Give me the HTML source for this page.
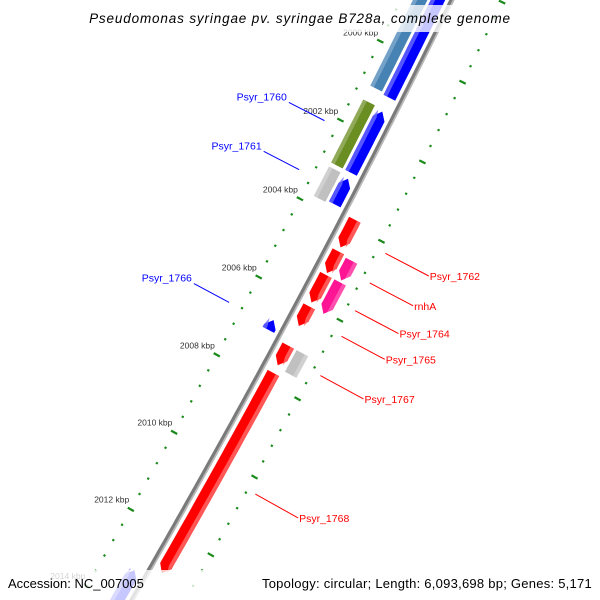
<!DOCTYPE html>
<html><head><meta charset="utf-8"><style>
html,body{margin:0;padding:0;background:#fff;width:600px;height:600px;overflow:hidden;}
svg{display:block;font-family:"Liberation Sans",sans-serif;overflow:hidden;}
</style></head><body>
<svg id="map" width="600" height="600" viewBox="0 0 600 600" xmlns="http://www.w3.org/2000/svg">
<defs><clipPath id="frame"><rect x="0" y="0" width="600" height="600"/></clipPath></defs>
<g clip-path="url(#frame)">
<g id="rings"></g>
<g id="backbone"></g>
<g id="genes"></g>
<g id="labels"></g>
<rect x="85" y="5" width="430" height="27" fill="#fff" fill-opacity="0.78"/>
<text x="300" y="23" text-anchor="middle" font-size="13.5" font-style="italic" letter-spacing="0.85" fill="#000">Pseudomonas syringae pv. syringae B728a, complete genome</text>
<rect x="0" y="570" width="600" height="30" fill="#fff" fill-opacity="0.78"/>
<text x="8" y="588" font-size="13" fill="#000">Accession: NC_007005</text>
<text x="592" y="588" font-size="13" letter-spacing="0.25" text-anchor="end" fill="#000">Topology: circular; Length: 6,093,698 bp; Genes: 5,171</text>
</g>
</svg>
<script>
// data
const geneStarts = [1994, 2001.4, 2003.1, 2006.7, 2013.15, 2003.85, 2004.65, 2005.25, 2006.05, 2007.05, 2007.75];
const geneEnds   = [2001.05, 2002.95, 2003.75, 2006.95, 2017, 2004.55, 2005.2, 2005.95, 2006.55, 2007.55, 2012.9];
const geneStrand = [-1, -1, -1, -1, -1, 1, 1, 1, 1, 1, 1];
const geneNames  = ["", "Psyr_1760", "Psyr_1761", "Psyr_1766", "", "Psyr_1762", "", "", "Psyr_1765", "Psyr_1767", "Psyr_1768"];
const featStarts = [1994, 2001.35, 2003.05, 2014.6, 2004.7, 2005.25, 2007.05];
const featEnds   = [2001.0, 2002.95, 2003.8, 2017, 2005.2, 2006.05, 2007.6];
const featSide   = [-1, -1, -1, -1, 1, 1, 1];
const featColors = ["#4682b4", "#6b8e23", "#c0c0c0", "#6a5acd", "#ff1493", "#ff1493", "#c0c0c0"];
const featNames  = ["", "", "", "", "rnhA", "Psyr_1764", ""];
const majorTicks = [2000, 2002, 2004, 2006, 2008, 2010, 2012, 2014];
const tickLabels = ["2000 kbp","2002 kbp","2004 kbp","2006 kbp","2008 kbp","2010 kbp","2012 kbp","2014 kbp"];

const NS="http://www.w3.org/2000/svg";
const CX=-8425, CY=-4349, R0=9885;
function ang(k){return (26.50+(k-2000)*0.2575)*Math.PI/180;}
function pt(k,r){const a=ang(k);return [CX+r*Math.cos(a), CY+r*Math.sin(a)];}
function mk(tag,attrs,parent){const e=document.createElementNS(NS,tag);for(const k in attrs)e.setAttribute(k,attrs[k]);parent.appendChild(e);return e;}
function arcPts(k1,k2,r){const out=[];const n=Math.max(2,Math.ceil((k2-k1)*6));for(let i=0;i<=n;i++){out.push(pt(k1+(k2-k1)*i/n,r));}return out;}
function ps(p){return p.map(q=>q[0].toFixed(1)+","+q[1].toFixed(1)).join(" ");}

const rings=document.getElementById('rings');
for(let i=0;i<=52;i++){
  const k=1996+i*0.4;
  const isMajor=Math.abs(k-Math.round(k))<0.01 && Math.round(k)%2===0;
  [-46,46].forEach(function(off){
    const len=isMajor?7:2.2;
    const a=pt(k,R0+off-len/2), b=pt(k,R0+off+len/2);
    const t=mk('line',{x1:a[0],y1:a[1],x2:b[0],y2:b[1],stroke:'#1a8a1a','stroke-width':2.2},rings);
    
    
  });
}
majorTicks.forEach(function(k,i){
  const p=pt(k,R0-68);
  const t=mk('text',{x:p[0].toFixed(1),y:(p[1]+4).toFixed(1),'text-anchor':'middle','font-size':'8.5',fill:'#333'},rings);
  t.textContent=tickLabels[i];
  
  
});

const bb=document.getElementById('backbone');
const bl1=mk('polyline',{points:ps(arcPts(1994,2017,R0)),fill:'none',stroke:'#b8b8b8','stroke-width':5},bb);


const bl2=mk('polyline',{points:ps(arcPts(1994,2017,R0-0.8)),fill:'none',stroke:'#7a7a7a','stroke-width':3},bb);



const genes=document.getElementById('genes');
function shape(k1,k2,rIn,rOut,dir,arrow){
  const head=arrow?0.18:0;
  let pts;
  const rm=(rIn+rOut)/2;
  if(dir>0){
    const kb=Math.max(k1,k2-head);
    pts=arcPts(k1,kb,rOut).concat(arrow?[pt(k2,rm)]:[]).concat(arcPts(k1,kb,rIn).reverse());
  } else {
    const kb=Math.min(k2,k1+head);
    pts=arcPts(kb,k2,rOut).concat(arcPts(kb,k2,rIn).reverse()).concat(arrow?[pt(k1,rm)]:[]);
  }
  return pts;
}
geneStarts.forEach(function(s,i){
  const e=geneEnds[i], d=geneStrand[i];
  const rIn=d>0?R0+6:R0-19, rOut=d>0?R0+19:R0-6;
  const col=d>0?'#ff0000':'#0000ff', lite=d>0?'#ff6b6b':'#6b6bff';
  const g=mk('polygon',{points:ps(shape(s,e,rIn,rOut,d,true)),fill:col},genes);
  
  
  const hl=mk('polygon',{points:ps(shape(s,e-(d>0?0.05:0),d>0?rOut-4:rIn,d>0?rOut:rIn+4,d,true)),fill:lite,opacity:0.8},genes);
  
  
});
featStarts.forEach(function(s,i){
  const e=featEnds[i], d=featSide[i];
  const rIn=d>0?R0+22:R0-35, rOut=d>0?R0+35:R0-22;
  const pink=featColors[i]==='#ff1493';
  const f=mk('polygon',{points:ps(shape(s,e,rIn,rOut,d,pink)),fill:featColors[i]},genes);
  
  
  const hl=mk('polygon',{points:ps(shape(s,e,d>0?rOut-4:rIn,d>0?rOut:rIn+4,d,false)),fill:'#ffffff',opacity:0.25},genes);
  
  
});

const labels=document.getElementById('labels');
function label(k,side,name,color){
  let a,b;
  if(side<0){a=pt(k,R0-60);b=pt(k,R0-100);}else{a=pt(k,R0+55);b=pt(k,R0+104);}
  const l=mk('line',{x1:a[0],y1:a[1],x2:b[0],y2:b[1],stroke:color,'stroke-width':1},labels);
  
  
  const t=mk('text',{x:(side<0?b[0]-2:b[0]+1).toFixed(1),y:(b[1]+(side<0?-2:4)).toFixed(1),'text-anchor':side<0?'end':'start','font-size':'10.5',fill:color},labels);
  t.textContent=name;
  
  
}
geneStarts.forEach(function(s,i){
  if(!geneNames[i])return;
  label((s+geneEnds[i])/2,geneStrand[i],geneNames[i],geneStrand[i]>0?'#ff0000':'#0000ff');
});
featStarts.forEach(function(s,i){
  if(!featNames[i])return;
  label((s+featEnds[i])/2,featSide[i],featNames[i],'#ff0000');
});
</script>
</body></html>
